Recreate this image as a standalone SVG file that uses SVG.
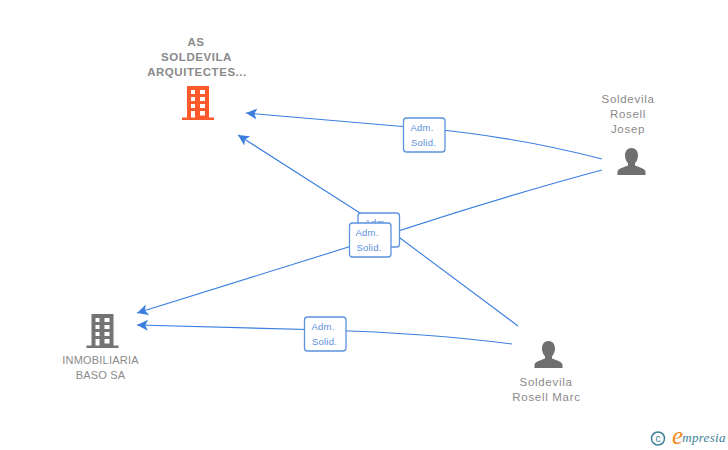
<svg xmlns="http://www.w3.org/2000/svg" width="728" height="450" viewBox="0 0 728 450">
<style>
.lbl{font-family:"Liberation Sans",Arial,sans-serif;font-size:11.500px;fill:#8a8a8a;text-anchor:middle;letter-spacing:.7px}
.b{font-weight:bold;letter-spacing:.55px}
.u{font-size:11px;letter-spacing:.2px}
.c{fill:none;stroke:#3a7fe0;stroke-width:1.100}
.box{fill:#fff;stroke:#5b93de;stroke-width:1.300}
.bt{font-family:"Liberation Sans",Arial,sans-serif;font-size:9.500px;fill:#5b8fdc;text-anchor:middle;letter-spacing:.2px}
.win{fill:#fff}
</style>
<defs>
<marker id="a" markerUnits="userSpaceOnUse" markerWidth="11" markerHeight="11" refX="10" refY="5" orient="auto" viewBox="0 0 10 10"><path d="M10 5L0 0L2.500 5L0 10Z" fill="#3a7fe0"/></marker>
<g id="bld">
<path d="M5 0H27V31.500H32V34H0V31.500H5Z"/>
<path class="win" d="M9 4h4v4h-4zM18 4h5v4h-5zM9 11h4v4h-4zM18 11h5v4h-5zM9 18h4v4h-4zM18 18h5v4h-5zM9 25h4v6.500h-4zM18 25h5v4.500h-5z"/>
</g>
<path id="psn" d="M14 0c4 0 6.500 3 6.500 7.500c0 3-1.200 6-3 7.800v2.200c3 1.500 9.500 2.500 10.500 6V27H0v-3.500c1-3.500 7.500-4.500 10.500-6v-2.200c-1.800-1.800-3-4.800-3-7.800C7.500 3 10 0 14 0Z"/>
</defs>
<g id="connectors">
<path class="c" marker-end="url(#a)" d="M602 159C540 143 480 133 420 128L246 113"/>
<path class="c" marker-end="url(#a)" d="M602 170C520 192 440 217 371 240L137 313"/>
<path class="c" marker-end="url(#a)" d="M518 326L400 238L360 213L238 135"/>
<path class="c" marker-end="url(#a)" d="M512 344C450 336 390 332 325 330L137 325"/>
</g>
<g id="label-josep-as"><rect class="box" x="403.500" y="118" width="41.500" height="34" rx="3"/><text class="bt" x="422" y="131">Adm.</text><text class="bt" x="423.500" y="146">Solid.</text></g>
<g id="label-marc-as"><rect class="box" x="358" y="213" width="41.500" height="34" rx="3"/><text class="bt" x="376" y="226">Adm.</text></g>
<g id="label-josep-inmo"><rect class="box" x="349.500" y="223" width="41.500" height="34" rx="3"/><text class="bt" x="367" y="236">Adm.</text><text class="bt" x="369" y="251">Solid.</text></g>
<g id="label-marc-inmo"><rect class="box" x="304.500" y="317" width="41.500" height="34" rx="3"/><text class="bt" x="323" y="330">Adm.</text><text class="bt" x="324.500" y="345">Solid.</text></g>
<g id="node-as">
<text class="lbl b" x="196" y="46">AS</text><text class="lbl b" x="196.500" y="61">SOLDEVILA</text><text class="lbl b" x="197" y="76">ARQUITECTES...</text>
<use href="#bld" x="182" y="86" fill="#ff5a2b"/>
</g>
<g id="node-inmo">
<text class="lbl u" x="100.500" y="364">INMOBILIARIA</text><text class="lbl u" x="100.500" y="379">BASO SA</text>
<use href="#bld" x="86.500" y="314" fill="#747474"/>
</g>
<g id="node-josep">
<text class="lbl" x="628" y="103">Soldevila</text><text class="lbl" x="628" y="118">Rosell</text><text class="lbl" x="628" y="133">Josep</text>
<use href="#psn" x="617.500" y="148" fill="#6f6f6f"/>
</g>
<g id="node-marc">
<text class="lbl" x="546" y="386">Soldevila</text><text class="lbl" x="546.500" y="401">Rosell Marc</text>
<use href="#psn" x="534.500" y="341" fill="#6f6f6f"/>
</g>
<g id="logo">
<circle cx="658" cy="438.500" r="6.500" fill="none" stroke="#3d8096" stroke-width="1.500"/>
<text x="658" y="442" font-family="Liberation Sans,sans-serif" font-size="10" fill="#3d8096" text-anchor="middle">c</text>
<text x="677.500" y="444" font-family="Liberation Serif,serif" font-style="italic" font-size="25" fill="#f08a1d" text-anchor="middle">e</text>
<text x="704" y="442" font-family="Liberation Serif,serif" font-style="italic" font-size="13" fill="#3d8096" text-anchor="middle" letter-spacing=".3">mpresia</text>
</g>
</svg>
